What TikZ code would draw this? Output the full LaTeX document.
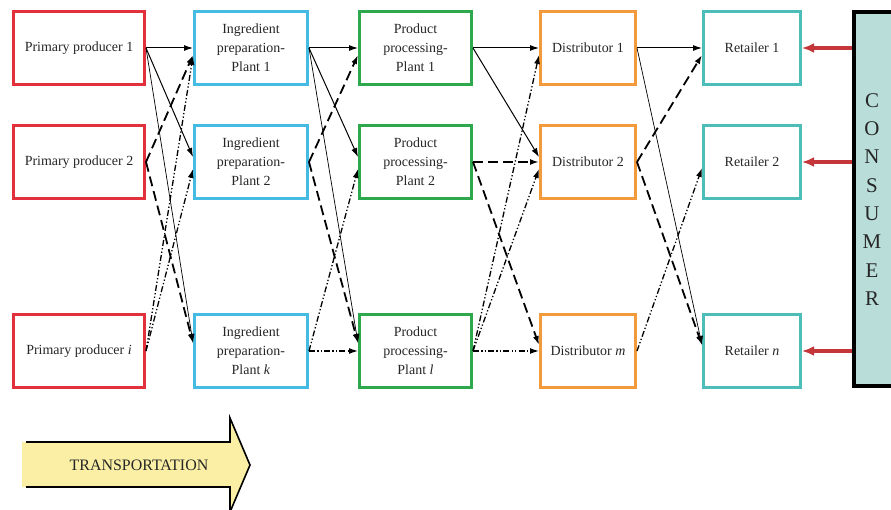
\documentclass[tikz,border=0pt]{standalone}
\usepackage{fontspec}
\setmainfont{Liberation Serif}
\usetikzlibrary{arrows.meta}
\definecolor{cred}{HTML}{E2303C}
\definecolor{cblue}{HTML}{45BBE3}
\definecolor{cgreen}{HTML}{2EA84C}
\definecolor{corange}{HTML}{F29A3C}
\definecolor{cteal}{HTML}{4DBDB9}
\definecolor{consfill}{HTML}{B9DEDA}
\definecolor{arrred}{HTML}{C4363A}
\definecolor{transyellow}{HTML}{FAEFA4}
\definecolor{txt}{HTML}{262626}
\tikzset{
  box/.style={draw, line width=3bp, minimum height=73bp, inner sep=0pt, align=center,
    font=\fontsize{14}{19}\selectfont, text=txt},
  pbox/.style={box, draw=cred, minimum width=131bp},
  ibox/.style={box, draw=cblue, minimum width=113bp},
  ppbox/.style={box, draw=cgreen, minimum width=112bp},
  dbox/.style={box, draw=corange, minimum width=95bp},
  rbox/.style={box, draw=cteal, minimum width=97bp},
  tip/.style={-{Latex[length=9bp,width=6bp]}},
  cA/.style={tip, line width=1bp},
  cAthin/.style={tip, line width=0.7bp},
  cB/.style={tip, line width=1.8bp, dash pattern=on 10bp off 5bp},
  cC/.style={tip, line width=1.3bp, dash pattern=on 6bp off 2.2bp on 1.3bp off 2.2bp on 1.3bp off 2.2bp},
  redarr/.style={-{Latex[length=12bp,width=10bp]}, line width=3.5bp, draw=arrred},
}
\begin{document}
\begin{tikzpicture}[x=1bp,y=-1bp]
\clip (0,0) rectangle (891,510);
\fill[white] (0,0) rectangle (891,510);
% columns
\node[pbox] (P1) at (79,48) {Primary producer 1};
\node[pbox] (P2) at (79,162) {Primary producer 2};
\node[pbox] (P3) at (79,351) {Primary producer \textit{i}};
\node[ibox] (I1) at (251,48) {Ingredient\\preparation-\\Plant 1};
\node[ibox] (I2) at (251,162) {Ingredient\\preparation-\\Plant 2};
\node[ibox] (I3) at (251,351) {Ingredient\\preparation-\\Plant \textit{k}};
\node[ppbox] (Q1) at (415.5,48) {Product\\processing-\\Plant 1};
\node[ppbox] (Q2) at (415.5,162) {Product\\processing-\\Plant 2};
\node[ppbox] (Q3) at (415.5,351) {Product\\processing-\\Plant \textit{l}};
\node[dbox] (D1) at (588,48) {Distributor 1};
\node[dbox] (D2) at (588,162) {Distributor 2};
\node[dbox] (D3) at (588,351) {Distributor \textit{m}};
\node[rbox] (R1) at (752,48) {Retailer 1};
\node[rbox] (R2) at (752,162) {Retailer 2};
\node[rbox] (R3) at (752,351) {Retailer \textit{n}};
% consumer
\node[draw=black, fill=consfill, line width=4bp, minimum width=50bp, minimum height=374bp, inner sep=0pt] (CONS) at (879,199) {};
\node[align=center, font=\fontsize{21}{28.4}\selectfont, text=txt, inner sep=0pt] (CT) at (872,199.5) {C\\O\\N\\S\\U\\M\\E\\R};
\draw[redarr] (CONS.west |- R1.east) -- (R1.east);
\draw[redarr] (CONS.west |- R2.east) -- (R2.east);
\draw[redarr] (CONS.west |- R3.east) -- (R3.east);
% producers -> ingredient
\draw[cA] (P1.east) -- (I1.west);
\draw[cA] (P1.east) -- ([yshift=5bp]I2.west);
\draw[cAthin] (P1.east) -- ([yshift=8bp]I3.west);
\draw[cB] (P2.east) -- ([yshift=-7bp]I1.west);
\draw[cB] (P2.east) -- ([yshift=8bp]I3.west);
\draw[cC] (P3.east) -- ([yshift=-8bp]I1.west);
\draw[cC] (P3.east) -- ([yshift=-7bp]I2.west);
% ingredient -> product
\draw[cA] (I1.east) -- (Q1.west);
\draw[cA] (I1.east) -- ([yshift=5bp]Q2.west);
\draw[cAthin] (I1.east) -- ([yshift=8bp]Q3.west);
\draw[cB] (I2.east) -- ([yshift=-7bp]Q1.west);
\draw[cB] (I2.east) -- ([yshift=8bp]Q3.west);
\draw[cC] (I3.east) -- ([yshift=-7bp]Q2.west);
\draw[cC] (I3.east) -- (Q3.west);
% product -> distributor
\draw[cA] (Q1.east) -- (D1.west);
\draw[cA] (Q1.east) -- ([yshift=5bp]D2.west);
\draw[cB] (Q2.east) -- (D2.west);
\draw[cB] (Q2.east) -- ([yshift=6bp]D3.west);
\draw[cC] (Q3.east) -- (D3.west);
\draw[cC] (Q3.east) -- ([yshift=-7bp]D1.west);
\draw[cC] (Q3.east) -- ([yshift=-7bp]D2.west);
% distributor -> retailer
\draw[cA] (D1.east) -- (R1.west);
\draw[cAthin] (D1.east) -- ([yshift=6bp]R3.west);
\draw[cB] (D2.east) -- ([yshift=-7bp]R1.west);
\draw[cB] (D2.east) -- ([yshift=6bp]R3.west);
\draw[cC] (D3.east) -- ([yshift=-6bp]R2.west);
% transportation arrow
\fill[transyellow] (22,442) -- (230,442) -- (230,418) -- (250,465) -- (230,512) -- (230,487) -- (22,487) -- cycle;
\draw[line width=1.6bp, line join=miter] (26,442) -- (230,442) -- (230,418) -- (250,465) -- (230,512) -- (230,487) -- (26,487);
\node[font=\fontsize{16}{19}\selectfont, text=txt, inner sep=0pt] (TR) at (139,465) {TRANSPORTATION};
\end{tikzpicture}
\end{document}
